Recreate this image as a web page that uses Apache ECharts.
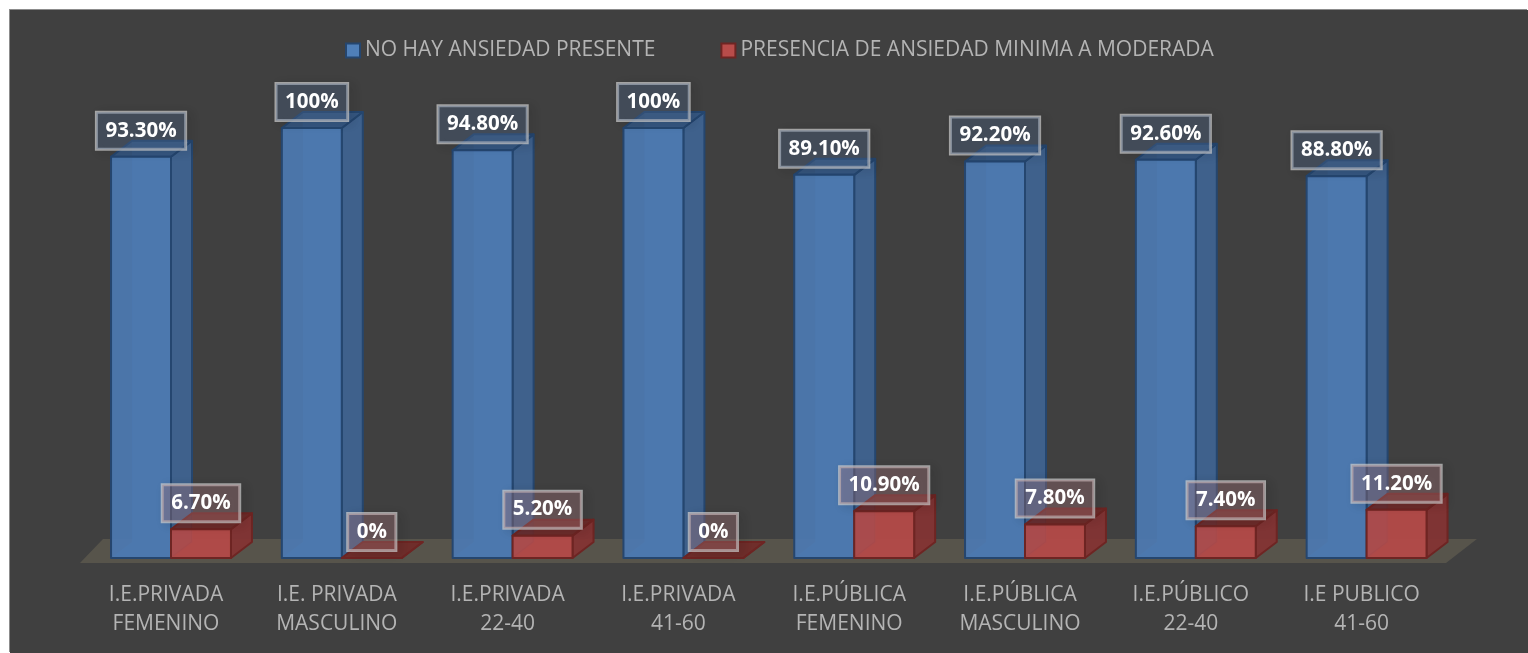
<!DOCTYPE html>
<html>
<head>
<meta charset="utf-8">
<title>Ansiedad</title>
<script src="https://cdn.jsdelivr.net/npm/echarts@6/dist/echarts.min.js"></script>
<style>
  html, body { margin: 0; padding: 0; background: #fff; overflow: hidden; }
  #chart { position: absolute; left: 10px; top: 10px; width: 1518px; height: 643px; box-shadow: -1px -1px 0 #8c8c8c; }
</style>
</head>
<body>
<div id="chart"></div>
<script>
  var categories = [
    'I.E.PRIVADA\nFEMENINO', 'I.E. PRIVADA\nMASCULINO', 'I.E.PRIVADA\n22-40', 'I.E.PRIVADA\n41-60',
    'I.E.PÚBLICA\nFEMENINO', 'I.E.PÚBLICA\nMASCULINO', 'I.E.PÚBLICO\n22-40', 'I.E PUBLICO\n41-60'
  ];
  var sinAnsiedad = [93.3, 100, 94.8, 100, 89.1, 92.2, 92.6, 88.8];
  var conAnsiedad = [6.7, 0, 5.2, 0, 10.9, 7.8, 7.4, 11.2];
  var nombreSin = 'NO HAY ANSIEDAD PRESENTE';
  var nombreCon = 'PRESENCIA DE ANSIEDAD MINIMA A MODERADA';

  var font = '"Open Sans", Lato, sans-serif';
  var depthX = 21;
  var depthY = 16;

  var azul = {
    front: 'rgba(76,122,178,0.92)', side: 'rgba(62,98,142,0.9)', top: 'rgba(52,86,130,0.9)',
    inner: 'rgba(84,132,190,0.5)', line: '#25466f', box: 'rgba(80,110,150,0.32)'
  };
  var rojo = {
    front: 'rgba(178,74,72,0.92)', side: 'rgba(128,50,50,0.9)', top: 'rgba(108,42,40,0.9)',
    inner: 'rgba(190,80,78,0.5)', line: '#6e2523', box: 'rgba(170,120,125,0.36)'
  };

  function etiqueta(v) {
    return (v === 100 || v === 0) ? v + '%' : v.toFixed(2) + '%';
  }

  function poly(points, fill, stroke) {
    return {
      type: 'polygon',
      shape: { points: points },
      style: { fill: fill, stroke: stroke, lineWidth: stroke ? 2 : 0, lineJoin: 'round' }
    };
  }

  // caja 3d: offset es -1 para la barra azul y 0 para la roja
  function caja(offset, c) {
    return function (params, api) {
      var band = api.size([1, 0])[0];
      var w = band * 0.351;
      var v = api.value(1);
      var base = api.coord([api.value(0), 0]);
      var top = api.coord([api.value(0), v]);
      var x0 = base[0] + offset * w;
      var x1 = x0 + w;
      var y0 = base[1];
      var y1 = top[1];
      var dx = depthX;
      var dy = depthY;
      var children = [
        // caras de atras, se ven por la transparencia
        poly([[x0 + dx, y1 - dy], [x1 + dx, y1 - dy], [x1 + dx, y0 - dy], [x0 + dx, y0 - dy]], c.inner),
        poly([[x0, y0], [x1, y0], [x1 + dx, y0 - dy], [x0 + dx, y0 - dy]], c.inner),
        poly([[x1, y1], [x1 + dx, y1 - dy], [x1 + dx, y0 - dy], [x1, y0]], c.side, c.line),
        poly([[x0, y1], [x1, y1], [x1 + dx, y1 - dy], [x0 + dx, y1 - dy]], c.top, c.line),
        poly([[x0, y0], [x1, y0], [x1, y1], [x0, y1]], c.front, c.line),
        {
          type: 'text',
          z2: 50,
          style: {
            text: etiqueta(v),
            x: x0 + w / 2,
            y: y1 - 26,
            align: 'center',
            verticalAlign: 'middle',
            font: 'bold 20.5px ' + font,
            fill: '#fff',
            backgroundColor: c.box,
            borderColor: 'rgba(205,205,205,0.72)',
            borderWidth: 1.5,
            padding: [8, 9, 8, 9],
            shadowBlur: 10,
            shadowColor: 'rgba(0,0,0,0.18)',
            shadowOffsetX: 4,
            shadowOffsetY: 2
          }
        }
      ];
      return { type: 'group', children: children };
    };
  }

  function piso(params, api) {
    var band = api.size([1, 0])[0];
    var a = api.coord([0, 0]);
    var b = api.coord([categories.length - 1, 0]);
    return poly([
      [a[0] - band * 0.533, a[1] + 5],
      [a[0] - band * 0.398, a[1] - 19],
      [b[0] + band * 0.646, b[1] - 19],
      [b[0] + band * 0.465, b[1] + 5]
    ], '#57544b');
  }

  function filas(valores) {
    return valores.map(function (v, i) { return [i, v]; });
  }

  var chart = echarts.init(document.getElementById('chart'));
  chart.setOption({
    animation: false,
    backgroundColor: '#404040',
    textStyle: { fontFamily: font },
    legend: {
      data: [
        { name: nombreSin, itemStyle: { color: '#4f7fb8', borderColor: '#25466f', borderWidth: 2 } },
        { name: nombreCon, itemStyle: { color: '#b84c4a', borderColor: '#6e2523', borderWidth: 2 } }
      ],
      left: 330,
      top: 25,
      icon: 'rect',
      itemWidth: 14,
      itemHeight: 14,
      itemGap: 65,
      textStyle: { color: '#b4b4b4', fontSize: 21, fontFamily: font }
    },
    grid: { left: 75.6, right: 76, top: 118, height: 430 },
    xAxis: {
      type: 'category',
      data: categories,
      axisLine: { show: false },
      axisTick: { show: false },
      axisLabel: {
        color: '#b4b4b4', fontSize: 21, lineHeight: 29, margin: 23, interval: 0,
        fontFamily: font, padding: [0, 10, 0, 0]
      }
    },
    yAxis: { type: 'value', min: 0, max: 100, show: false },
    series: [
      { type: 'custom', name: 'piso', data: [[0, 0]], renderItem: piso, silent: true, z: 1 },
      {
        type: 'custom',
        name: nombreSin,
        data: filas(sinAnsiedad),
        renderItem: caja(-1, azul),
        encode: { x: 0, y: 1 },
        itemStyle: { color: '#4f81bd' },
        z: 2
      },
      {
        type: 'custom',
        name: nombreCon,
        data: filas(conAnsiedad),
        renderItem: caja(0, rojo),
        encode: { x: 0, y: 1 },
        itemStyle: { color: '#c0504d' },
        z: 3
      }
    ]
  });
</script>
</body>
</html>
